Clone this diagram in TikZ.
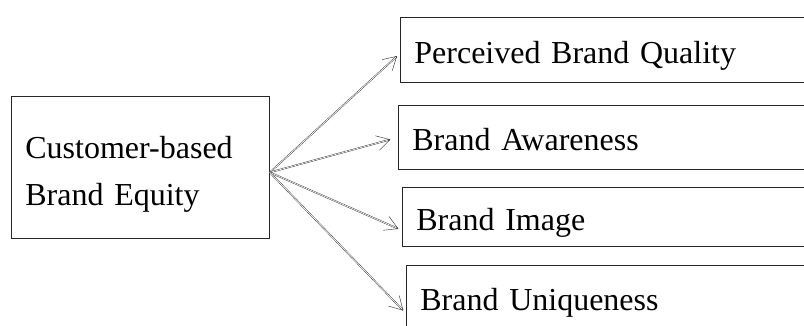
\documentclass[tikz,border=0pt]{standalone}
\usepackage{fontspec}
\setmainfont{Liberation Serif}
\usetikzlibrary{arrows.meta, positioning}
\tikzset{
    block/.style={rectangle, draw=black!85, line width=0.8pt, align=left, inner xsep=14pt, anchor=north west, font=\fontsize{32}{47}\selectfont},
    item/.style={block, minimum width=420pt, text width=392pt, text height=27pt, text depth=0pt},
    arrow/.style={draw=black!85, line width=0.4pt, double=white, double distance=0.7pt, -{Straight Barb[length=13pt, width=15pt]}, shorten >=4pt}
}
\begin{document}
\begin{tikzpicture}[x=1pt, y=-1pt]
    \useasboundingbox (0,0) rectangle (804,325);
    \clip (0,0) rectangle (804,325);
    \node[block, minimum width=258pt, minimum height=142pt, text width=230pt, text height=36pt] (cbbe) at (11,96) {Customer-based\\Brand Equity};
    \node[item, minimum height=65pt] (quality) at (400,17) {Perceived Brand Quality};
    \node[item, minimum height=64pt] (awareness) at (398,105) {Brand Awareness};
    \node[item, minimum height=59pt] (image) at (402,187) {Brand Image};
    \node[item, minimum height=63pt] (uniqueness) at (406,265) {Brand Uniqueness};

    \coordinate (hub) at ([yshift=-5pt]cbbe.east);
    \draw[arrow] (hub) -- ([yshift=-3.5pt]quality.west);
    \draw[arrow, shorten >=8pt] (hub) -- (awareness.west);
    \draw[arrow] (hub) -- ([yshift=-13.5pt]image.west);
    \draw[arrow] (hub) -- ([yshift=-16.5pt]uniqueness.west);
\end{tikzpicture}
\end{document}
